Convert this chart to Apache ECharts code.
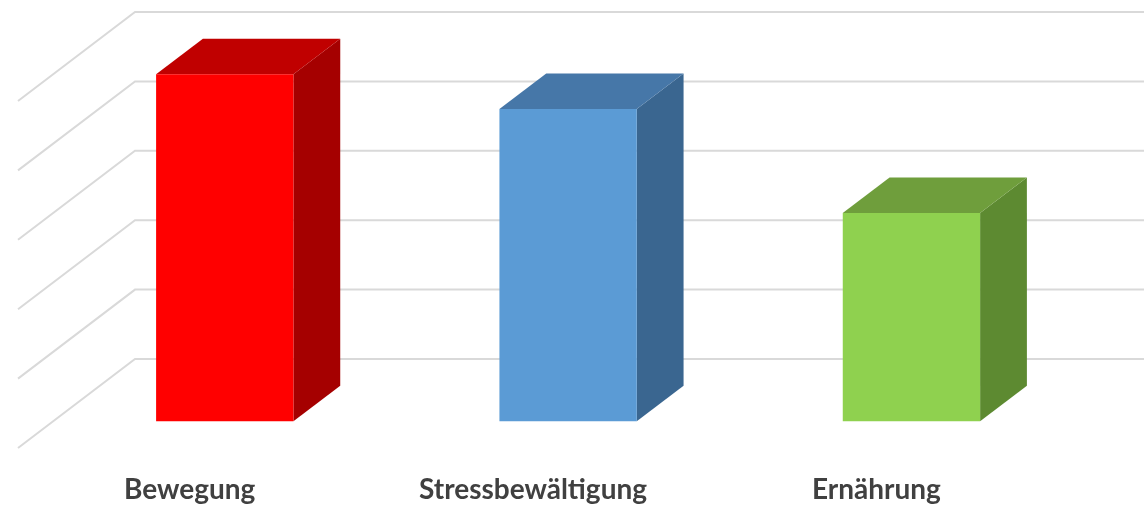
<!DOCTYPE html>
<html>
<head>
<meta charset="utf-8">
<script src="https://cdn.jsdelivr.net/npm/echarts@6/dist/echarts.min.js"></script>
<style>
  html, body { margin: 0; padding: 0; background: #ffffff; }
  #chart { width: 1144px; height: 507px; }
</style>
</head>
<body>
<div id="chart"></div>
<script>
// Categories and their values
const categories = ['Bewegung', 'Stressbewältigung', 'Ernährung'];
const values = [5.0, 4.5, 3.0];
// Value ticks drawn on the back and side walls
const wallTicks = [0, 1, 2, 3, 4, 5];

// Face colours of each bar (front, top, side)
const frontColors = ['#ff0000', '#5b9bd5', '#8fd14f'];
const topColors = ['#c00000', '#4677a8', '#6f9e3c'];
const sideColors = ['#a50000', '#3a6690', '#5d8a31'];

// Oblique projection: the grid is the front edge of the floor,
// BACK is the vector from there to the back wall
const BACK = [117, -89];
const BAR_FRONT = 0.3;  // bar front face, as share of the depth from the front
const BAR_BACK = 0.7;   // bar back face
const BAR_WIDTH = 0.4;  // share of the category band
const WALL_COLOR = '#d9d9d9';

const chart = echarts.init(document.getElementById('chart'));

function renderBar(params, api) {
  const idx = api.value(0);
  const val = api.value(1);
  const base = api.coord([idx, 0]);
  const top = api.coord([idx, val]);
  const hw = api.size([1, 0])[0] * BAR_WIDTH / 2;
  const f = [BACK[0] * BAR_FRONT, BACK[1] * BAR_FRONT];
  const b = [BACK[0] * BAR_BACK, BACK[1] * BAR_BACK];
  const x = base[0];
  const y0 = base[1];
  const y1 = top[1];
  const fl = x - hw + f[0], fr = x + hw + f[0];
  const fTop = y1 + f[1], fBot = y0 + f[1];
  const bl = x - hw + b[0], br = x + hw + b[0];
  const bTop = y1 + b[1], bBot = y0 + b[1];
  return {
    type: 'group',
    children: [
      {
        type: 'polygon',
        shape: { points: [[fr, fTop], [fr, fBot], [br, bBot], [br, bTop]] },
        style: { fill: sideColors[idx] }
      },
      {
        type: 'polygon',
        shape: { points: [[fl, fTop], [fr, fTop], [br, bTop], [bl, bTop]] },
        style: { fill: topColors[idx] }
      },
      {
        type: 'rect',
        shape: { x: fl, y: fTop, width: fr - fl, height: fBot - fTop },
        style: { fill: frontColors[idx] }
      }
    ]
  };
}

// Side wall diagonal plus back wall line for one value tick
function renderWall(params, api) {
  const v = api.value(1);
  const p = api.coord([0, v]);
  const x = params.coordSys.x;
  const bx = x + BACK[0];
  const by = p[1] + BACK[1];
  return {
    type: 'polyline',
    shape: { points: [[x, p[1]], [bx, by], [api.getWidth() + 10, by]] },
    style: { stroke: WALL_COLOR, lineWidth: 2, fill: null }
  };
}

chart.setOption({
  animation: false,
  backgroundColor: '#ffffff',
  grid: { left: 18, top: 101, width: 1030, bottom: 59 },
  xAxis: {
    type: 'category',
    data: categories,
    axisLine: { show: false },
    axisTick: { show: false },
    axisLabel: {
      interval: 0,
      margin: 28,
      fontFamily: 'Lato',
      fontWeight: 'bold',
      fontSize: 28,
      color: '#404040'
    }
  },
  yAxis: {
    type: 'value',
    min: 0,
    max: 5,
    interval: 1,
    axisLine: { show: false },
    axisTick: { show: false },
    axisLabel: { show: false },
    splitLine: { show: false }
  },
  series: [
    {
      type: 'custom',
      clip: false,
      z: 1,
      renderItem: renderWall,
      data: wallTicks.map(v => [0, v])
    },
    {
      type: 'custom',
      clip: false,
      z: 3,
      renderItem: renderBar,
      data: values.map((v, i) => [i, v])
    }
  ]
});
</script>
</body>
</html>
